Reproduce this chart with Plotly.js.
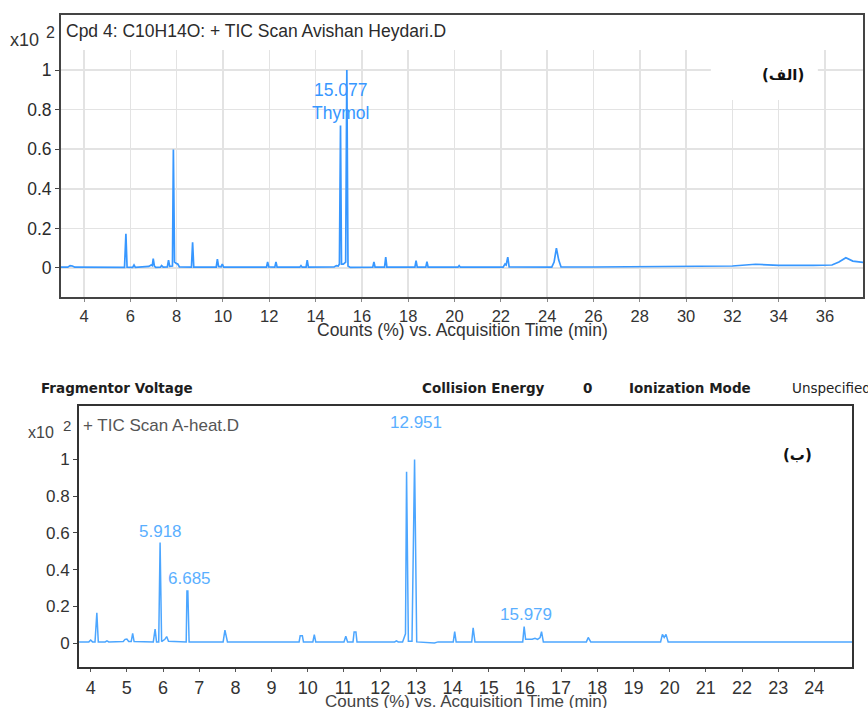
<!DOCTYPE html>
<html>
<head>
<meta charset="utf-8">
<script src="https://cdn.plot.ly/plotly-3.0.1.min.js"></script>
<style>html,body{margin:0;padding:0;background:#fff;}#chart{width:868px;height:708px;}</style>
</head>
<body>
<div id="chart"></div>
<script>
// ---- Chart A (الف): TIC Scan Avishan Heydari.D ----
const timeA = [3.0,3.3,3.4,3.5,3.6,5.0,5.75,5.81,5.86,6.1,6.16,6.22,6.8,6.9,6.95,6.99,7.04,7.1,7.3,7.35,7.42,7.6,7.65,7.7,7.82,7.86,7.91,8.0,8.05,8.12,8.64,8.69,8.74,9.71,9.76,9.81,9.92,9.97,10.03,11.88,11.93,11.98,12.24,12.29,12.34,13.32,13.37,13.42,13.59,13.64,13.69,14.8,14.9,14.98,15.03,15.077,15.12,15.2,15.3,15.35,15.4,15.5,16.47,16.52,16.57,16.98,17.03,17.08,18.29,18.34,18.39,18.76,18.81,18.86,20.15,20.2,20.25,22.1,22.18,22.23,22.3,22.36,23.6,24.2,24.3,24.4,24.5,24.6,26.0,28.0,29.6,30.5,32.0,33.0,34.0,35.5,36.3,36.6,36.9,37.2,37.64];
const countsA = [0.004,0.004,0.012,0.01,0.004,0.003,0.003,0.173,0.004,0.003,0.015,0.003,0.008,0.015,0.012,0.047,0.01,0.003,0.004,0.012,0.004,0.005,0.04,0.008,0.01,0.598,0.03,0.022,0.02,0.005,0.004,0.13,0.004,0.004,0.045,0.008,0.006,0.02,0.004,0.004,0.03,0.005,0.004,0.03,0.004,0.004,0.012,0.004,0.004,0.04,0.004,0.005,0.012,0.01,0.02,0.72,0.02,0.02,0.03,1.0,0.01,0.003,0.004,0.03,0.004,0.004,0.055,0.004,0.004,0.037,0.004,0.004,0.032,0.004,0.004,0.012,0.004,0.004,0.02,0.015,0.055,0.005,0.006,0.004,0.03,0.1,0.04,0.005,0.005,0.006,0.009,0.007,0.01,0.019,0.013,0.013,0.015,0.03,0.052,0.035,0.028];
const labelA = {time: 15.077, text: ["15.077", "Thymol"]};
const ticksA = [4,6,8,10,12,14,16,18,20,22,24,26,28,30,32,34,36];
const yTicks = [0,0.2,0.4,0.6,0.8,1];
const yTickText = ["0","0.2","0.4","0.6","0.8","1"];

// ---- Chart B (ب): TIC Scan A-heat.D ----
const timeB = [3.68,3.95,4.0,4.05,4.12,4.17,4.21,4.4,4.45,4.5,4.9,4.95,5.0,5.05,5.12,5.16,5.2,5.73,5.78,5.82,5.88,5.918,5.96,6.05,6.1,6.15,6.64,6.66,6.685,6.72,7.66,7.71,7.78,9.76,9.79,9.85,9.88,10.14,10.18,10.22,11.0,11.05,11.1,11.25,11.28,11.33,11.36,12.4,12.45,12.5,12.62,12.7,12.73,12.78,12.88,12.951,13.01,13.5,13.6,14.02,14.06,14.1,14.53,14.57,14.62,15.94,15.979,16.02,16.2,16.28,16.35,16.42,16.46,16.51,17.7,17.75,17.82,19.75,19.8,19.85,19.9,19.96,25.04];
const countsB = [0.006,0.006,0.016,0.006,0.006,0.165,0.006,0.006,0.012,0.006,0.008,0.02,0.022,0.008,0.008,0.053,0.008,0.006,0.076,0.006,0.006,0.547,0.008,0.02,0.035,0.01,0.006,0.283,0.283,0.006,0.006,0.07,0.006,0.006,0.04,0.04,0.006,0.006,0.046,0.006,0.006,0.037,0.006,0.006,0.06,0.06,0.006,0.006,0.012,0.006,0.006,0.05,0.933,0.01,0.01,1.0,0.006,0.0,0.006,0.006,0.062,0.006,0.006,0.083,0.006,0.006,0.089,0.02,0.02,0.025,0.02,0.03,0.062,0.006,0.006,0.03,0.006,0.006,0.047,0.03,0.047,0.006,0.006];
const labelsB = [5.918, 6.685, 12.951, 15.979];
const labelsBText = ["5.918", "6.685", "12.951", "15.979"];
const labelsBHeight = [0.61, 0.35, 1.2, 0.158];
const labelsBShift = [0.02, 0.04, 0.03, 0.04];
const ticksB = [4,5,6,7,8,9,10,11,12,13,14,15,16,17,18,19,20,21,22,23,24];

const W = 868, H = 708;
const px = x => x / W;
const py = y => 1 - y / H;
const FONT = "Liberation Sans, Arial, sans-serif";
const BOLDFONT = "DejaVu Sans, Verdana, sans-serif";

const traces = [
  {x: timeA, y: countsA, type: "scatter", mode: "lines", xaxis: "x", yaxis: "y",
   line: {color: "#3797ff", width: 1.7}, hoverinfo: "x+y"},
  {x: timeB, y: countsB, type: "scatter", mode: "lines", xaxis: "x2", yaxis: "y2",
   line: {color: "#4ca6ff", width: 1.5}, hoverinfo: "x+y"}
];

const annotations = [];
function ann(text, x, y, opts) {
  annotations.push(Object.assign({text, x, y, xref: "paper", yref: "paper", showarrow: false,
    xanchor: "left", yanchor: "middle", font: {family: FONT, size: 16, color: "#333"}}, opts || {}));
}
// Chart A texts
ann("Cpd 4: C10H14O: + TIC Scan Avishan Heydari.D", px(64), py(31), {font: {family: FONT, size: 17.5, color: "#2b2b2b"}});
ann("x10", px(8), py(40), {font: {family: FONT, size: 18, color: "#333"}});
ann("2", px(44), py(33), {font: {family: FONT, size: 16, color: "#333"}});
ann("Counts (%) vs. Acquisition Time (min)", px(462), py(330), {xanchor: "center", font: {family: FONT, size: 17.5, color: "#333"}});
labelA.text.forEach((t, i) => {
  annotations.push({text: t, x: labelA.time, y: i === 0 ? 0.9 : 0.783, xref: "x", yref: "y", showarrow: false,
    xanchor: "center", yanchor: "middle", font: {family: FONT, size: 17.5, color: "#3797ff"}});
});
annotations.push({text: "<b>(الف)</b>", x: 34.18, y: 0.975, xref: "x", yref: "y", showarrow: false,
  xanchor: "center", yanchor: "middle", font: {family: "DejaVu Sans, Noto Sans, sans-serif", size: 15, color: "#111"}});

// Chart B texts
ann("<b>Fragmentor Voltage</b>", px(39), py(388), {font: {family: BOLDFONT, size: 13.5, color: "#1e1e1e"}});
ann("<b>Collision Energy</b>", px(420), py(388), {font: {family: BOLDFONT, size: 13.5, color: "#1e1e1e"}});
ann("<b>0</b>", px(581), py(388), {font: {family: BOLDFONT, size: 13.5, color: "#1e1e1e"}});
ann("<b>Ionization Mode</b>", px(627), py(388), {font: {family: BOLDFONT, size: 13.5, color: "#1e1e1e"}});
ann("Unspecified", px(790), py(388), {font: {family: BOLDFONT, size: 13.5, color: "#222"}});
ann("+ TIC Scan A-heat.D", px(81), py(425), {font: {family: FONT, size: 17, color: "#555"}});
ann("x10", px(26), py(432), {font: {family: FONT, size: 16, color: "#444"}});
ann("2", px(61), py(426), {font: {family: FONT, size: 15, color: "#444"}});
ann("Counts (%) vs. Acquisition Time (min)", px(466), py(701), {xanchor: "center", font: {family: FONT, size: 17, color: "#444"}});
labelsB.forEach((t, i) => {
  annotations.push({text: labelsBText[i], x: t + labelsBShift[i], y: labelsBHeight[i], xref: "x2", yref: "y2", showarrow: false,
    xanchor: "center", yanchor: "middle", font: {family: FONT, size: 17, color: "#5aafff"}});
});
annotations.push({text: "<b>(ب)</b>", x: 23.52, y: 1.025, xref: "x2", yref: "y2", showarrow: false,
  xanchor: "center", yanchor: "middle", font: {family: "DejaVu Sans, Noto Sans, sans-serif", size: 15, color: "#111"}});

const shapes = [
  // white title band over gridlines (chart A)
  {type: "rect", xref: "x", yref: "y", x0: 3.0, x1: 37.64, y0: 1.101, y1: 1.28, fillcolor: "#fff", line: {width: 0}, layer: "between"},
  // white box behind (الف)
  {type: "rect", xref: "x", yref: "y", x0: 31.07, x1: 35.69, y0: 0.848, y1: 1.101, fillcolor: "#fff", line: {width: 0}, layer: "between"}
];

const layout = {
  width: W, height: H,
  margin: {l: 0, r: 0, t: 0, b: 0},
  paper_bgcolor: "#fff", plot_bgcolor: "#fff",
  showlegend: false,
  font: {family: FONT, color: "#333"},
  xaxis: {domain: [px(61), px(863)], anchor: "y", range: [3.007, 37.64],
    tickmode: "array", tickvals: ticksA, ticktext: ticksA.map(String),
    showgrid: true, gridcolor: "#e3e3e3", gridwidth: 1.5, zeroline: false,
    showline: true, linecolor: "#444", linewidth: 2, mirror: true,
    ticks: "outside", ticklen: 3, tickcolor: "#888",
    tickfont: {family: FONT, size: 16.5, color: "#333"}},
  yaxis: {domain: [py(297), py(15)], anchor: "x", range: [-0.1465, 1.2778],
    tickmode: "array", tickvals: yTicks, ticktext: yTickText,
    showgrid: true, gridcolor: "#e3e3e3", gridwidth: 1.5, zeroline: false,
    showline: true, linecolor: "#444", linewidth: 2, mirror: true,
    ticks: "outside", ticklen: 4, tickcolor: "#444",
    tickfont: {family: FONT, size: 17.5, color: "#2b2b2b"}},
  xaxis2: {domain: [px(79), px(852)], anchor: "y2", range: [3.677, 25.04],
    tickmode: "array", tickvals: ticksB, ticktext: ticksB.map(String),
    showgrid: false, zeroline: false,
    showline: true, linecolor: "#333", linewidth: 2, mirror: true,
    ticks: "outside", ticklen: 3, tickcolor: "#555",
    tickfont: {family: FONT, size: 18, color: "#333"}},
  yaxis2: {domain: [py(667), py(406)], anchor: "x2", range: [-0.1308, 1.2916],
    tickmode: "array", tickvals: yTicks, ticktext: yTickText,
    showgrid: false, zeroline: false,
    showline: true, linecolor: "#333", linewidth: 2, mirror: true,
    ticks: "outside", ticklen: 4, tickcolor: "#444",
    tickfont: {family: FONT, size: 17, color: "#333"}},
  annotations, shapes
};

Plotly.newPlot("chart", traces, layout, {staticPlot: true});
</script>
</body>
</html>
